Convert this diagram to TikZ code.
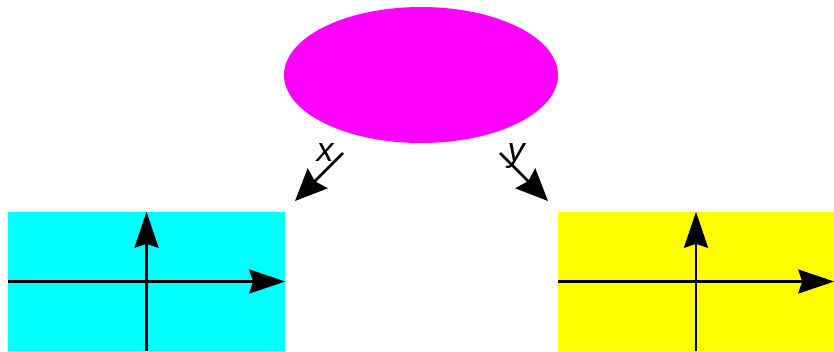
\documentclass[tikz,border=0pt]{standalone}
\usepackage{fontspec}
\setmainfont{Liberation Sans}
\usetikzlibrary{arrows.meta,shapes.geometric}
\definecolor{pmag}{RGB}{255,0,255}
\definecolor{pcyan}{RGB}{0,255,255}
\definecolor{pyel}{RGB}{255,255,0}
\tikzset{
  axisarrow/.style={line width=2.6pt,-{Stealth[length=36pt,width=24pt,inset=4pt]}},
  maparrow/.style={line width=2.6pt,-{Stealth[length=32pt,width=28pt,inset=4pt]}},
  panel/.style={draw=none,rectangle,inner sep=0pt,minimum width=277pt,minimum height=139pt},
  lbl/.style={inner sep=0pt,font=\fontsize{34}{34}\selectfont\itshape}
}
\begin{document}
\begin{tikzpicture}[x=1pt,y=-1pt]
\useasboundingbox (0,0) rectangle (834,351);
\node[ellipse,fill=pmag,draw=none,minimum width=274pt,minimum height=136pt,inner sep=0pt] (E) at (421,75) {};
\node[panel,fill=pcyan] (L) at (146.5,281.5) {};
\node[panel,fill=pyel,minimum width=276pt] (R) at (696,281.5) {};
\draw[axisarrow] (L.west) -- (L.east);
\draw[axisarrow] (L.south) -- (L.north);
\draw[axisarrow] (R.west) -- (R.east);
\draw[axisarrow] (R.south) -- (R.north);
\coordinate (xs) at (343,153);
\coordinate (xe) at (295,201);
\coordinate (ys) at (500,153);
\coordinate (ye) at (548,201);
\draw[maparrow] (xs) -- (xe);
\draw[maparrow] (ys) -- (ye);
\node[lbl] (xl) at (325,153) {x};
\node[lbl] (yl) at (516,156) {y};
\end{tikzpicture}
\end{document}
